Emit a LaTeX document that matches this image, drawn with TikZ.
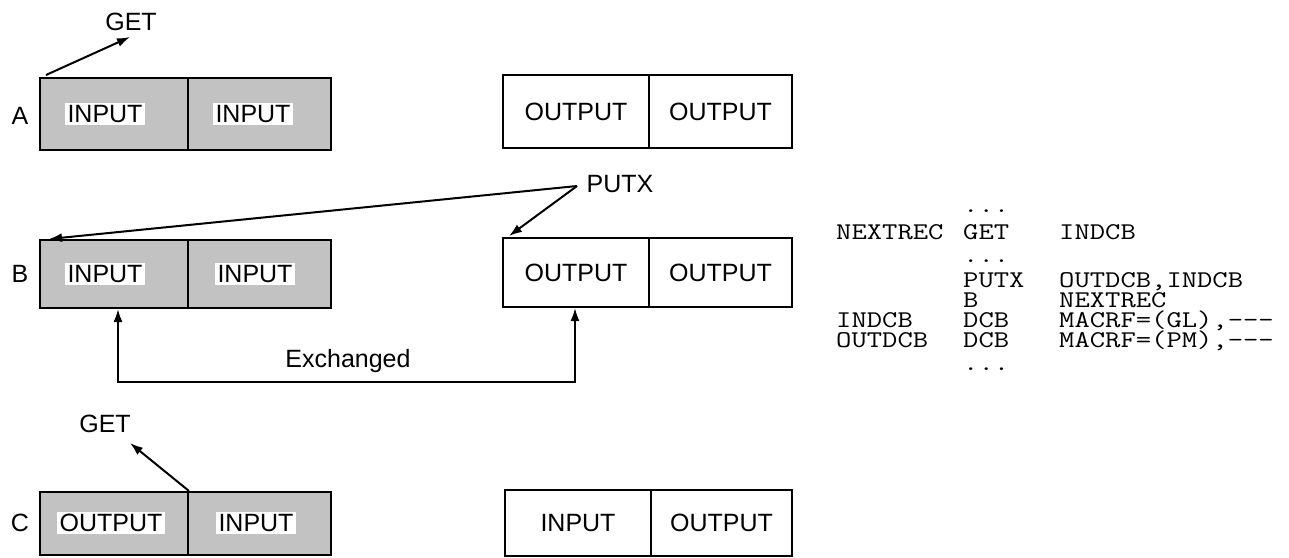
\documentclass[tikz,border=0pt]{standalone}
\usepackage{fontspec}
\usepackage{graphicx}
\setmainfont{Liberation Sans}
\usetikzlibrary{arrows.meta}
\newcommand\cdtxt[1]{\scalebox{1.24}[1]{\ttfamily\fontsize{24}{24}\selectfont #1}}
\begin{document}
\begin{tikzpicture}[x=1pt,y=-1pt,
  cell/.style={draw=black, line width=2pt, minimum height=#1, inner sep=0pt, font=\fontsize{25}{25}\selectfont},
  shcell/.style={cell=#1, fill=black!24},
  lbl/.style={font=\fontsize{25}{25}\selectfont, inner sep=1pt},
  wlbl/.style={lbl, fill=white, inner sep=2.5pt},
  code/.style={anchor=base west, inner sep=0pt},
  arr/.style={line width=2pt, -{Latex[length=13pt,width=9pt]}},
  dblarr/.style={line width=2pt, {Latex[length=13pt,width=9pt]}-{Latex[length=13pt,width=9pt]}}
]
\useasboundingbox (0,0) rectangle (1289,557);

% ---- Row A ----
\node[lbl] (la) at (20,116) {A};
\node[shcell=72, minimum width=148] (a1) at (114,114) {};
\node[shcell=72, minimum width=143] (a2) at (259.5,114) {};
\node[wlbl] (ta1) at (105,114) {INPUT};
\node[wlbl] (ta2) at (253,114) {INPUT};
\node[cell=73, minimum width=146] (oa1) at (576,111.5) {OUTPUT};
\node[cell=73, minimum width=143] (oa2) at (720.5,111.5) {OUTPUT};
\node[lbl] (geta) at (131,22) {GET};
\coordinate (getatip) at (130,37);
\draw[arr] ([xshift=7pt,yshift=2pt]a1.north west) -- (getatip);

% ---- Row B ----
\node[lbl] (lb) at (20,274) {B};
\node[shcell=68, minimum width=148] (b1) at (114,274) {};
\node[shcell=68, minimum width=143] (b2) at (259.5,274) {};
\node[wlbl] (tb1) at (105,274) {INPUT};
\node[wlbl] (tb2) at (255,274) {INPUT};
\node[cell=69, minimum width=146] (ob1) at (576,272.5) {OUTPUT};
\node[cell=69, minimum width=143] (ob2) at (720.5,272.5) {OUTPUT};
\node[lbl] (putx) at (620,184) {PUTX};
\coordinate (putxo) at (577,186);
\draw[arr] (putxo) -- ([xshift=10pt]b1.north west);
\draw[arr] (putxo) -- ([xshift=7pt,yshift=1pt]ob1.north west);
\coordinate (ex1) at (118,382);
\coordinate (ex2) at (575,382);
\draw[dblarr] (b1.south -| ex1) -- (ex1) -- (ex2) -- (ob1.south -| ex2);
\node[lbl] (exch) at (348,361) {Exchanged};

% ---- Row C ----
\node[lbl] (lc) at (20,523) {C};
\node[shcell=63, minimum width=148] (c1) at (114,523.5) {};
\node[shcell=63, minimum width=143] (c2) at (259.5,523.5) {};
\node[wlbl] (tc1) at (111,523) {OUTPUT};
\node[wlbl] (tc2) at (256,523) {INPUT};
\node[cell=66, minimum width=146] (oc1) at (578,523) {INPUT};
\node[cell=66, minimum width=141] (oc2) at (721.5,523) {OUTPUT};
\node[lbl] (getc) at (105,424) {GET};
\coordinate (getctip) at (130,443);
\draw[arr] (c1.north east) -- (getctip);

% ---- Code listing ----
\node[code] (d1) at (963,212) {\cdtxt{...}};
\node[code] (l1a) at (836,239) {\cdtxt{NEXTREC}};
\node[code] (l1b) at (963,239) {\cdtxt{GET}};
\node[code] (l1c) at (1059,239) {\cdtxt{INDCB}};
\node[code] (d2) at (963,262) {\cdtxt{...}};
\node[code] (l2b) at (963,287) {\cdtxt{PUTX}};
\node[code] (l2c) at (1059,287) {\cdtxt{OUTDCB,INDCB}};
\node[code] (l3b) at (963,307) {\cdtxt{B}};
\node[code] (l3c) at (1059,307) {\cdtxt{NEXTREC}};
\node[code] (l4a) at (836,327) {\cdtxt{INDCB}};
\node[code] (l4b) at (963,327) {\cdtxt{DCB}};
\node[code] (l4c) at (1059,327) {\cdtxt{MACRF=(GL),---}};
\node[code] (l5a) at (836,347) {\cdtxt{OUTDCB}};
\node[code] (l5b) at (963,347) {\cdtxt{DCB}};
\node[code] (l5c) at (1059,347) {\cdtxt{MACRF=(PM),---}};
\node[code] (d3) at (963,370) {\cdtxt{...}};
\end{tikzpicture}
\end{document}
